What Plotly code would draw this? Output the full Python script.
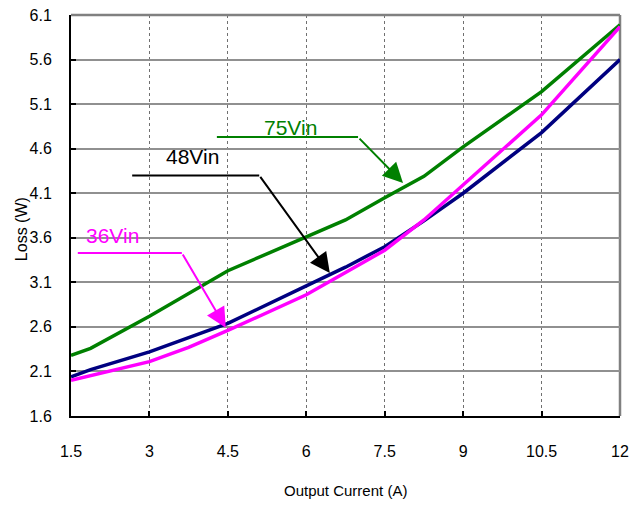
import plotly.graph_objects as go

current = [1.5, 1.875, 3, 3.75, 4.5, 6, 6.75, 7.5, 8.25, 9, 10.5, 12]
loss_75vin = [2.28, 2.36, 2.72, 2.98, 3.23, 3.61, 3.80, 4.05, 4.29, 4.62, 5.24, 5.99]
loss_48vin = [2.04, 2.12, 2.32, 2.475, 2.64, 3.06, 3.27, 3.50, 3.79, 4.10, 4.78, 5.60]
loss_36vin = [2.00, 2.05, 2.21, 2.37, 2.56, 2.96, 3.21, 3.46, 3.80, 4.19, 4.98, 5.97]

x_ticks = [1.5, 3, 4.5, 6, 7.5, 9, 10.5, 12]
y_ticks = [1.6, 2.1, 2.6, 3.1, 3.6, 4.1, 4.6, 5.1, 5.6, 6.1]

GREEN = "#008000"
NAVY = "#000080"
MAGENTA = "#FF00FF"

fig = go.Figure()
fig.add_trace(go.Scatter(x=current, y=loss_75vin, mode="lines", line=dict(color=GREEN, width=3.5), name="75Vin"))
fig.add_trace(go.Scatter(x=current, y=loss_48vin, mode="lines", line=dict(color=NAVY, width=3.5), name="48Vin"))
fig.add_trace(go.Scatter(x=current, y=loss_36vin, mode="lines", line=dict(color=MAGENTA, width=3.5), name="36Vin"))

tick_font = dict(family="Liberation Sans, Arial", size=16, color="black")

# page body has an 8px margin; compensate so the plot lands where the reference has it
fig.update_layout(
    width=635, height=498,
    margin=dict(l=63, r=23, t=7, b=90),
    paper_bgcolor="white", plot_bgcolor="white",
    showlegend=False,
    xaxis=dict(range=[1.5, 12], tickvals=x_ticks, ticktext=[f"{v:g}" for v in x_ticks],
               showgrid=True, gridcolor="#707070", gridwidth=1, griddash="dot",
               showline=True, linecolor="black", linewidth=2,
               ticks="inside", ticklen=5, tickcolor="black", tickwidth=1.5,
               tickfont=tick_font, ticklabelstandoff=20, ticklabeloverflow="allow",
               zeroline=False, automargin=False),
    yaxis=dict(range=[1.6, 6.1], tickvals=y_ticks, ticktext=[f"{v:g}" for v in y_ticks],
               showgrid=True, gridcolor="#909090", gridwidth=1.5,
               showline=True, linecolor="black", linewidth=2,
               ticks="inside", ticklen=5, tickcolor="black", tickwidth=1.5,
               tickfont=tick_font, ticklabelstandoff=14, ticklabeloverflow="allow",
               zeroline=False, automargin=False),
)

# gray top/right frame
fig.add_shape(type="line", xref="paper", yref="paper", x0=0, x1=1, y0=1, y1=1,
              line=dict(color="#808080", width=2.5), layer="above")
fig.add_shape(type="line", xref="paper", yref="paper", x0=1, x1=1, y0=0, y1=1,
              line=dict(color="#808080", width=2.5), layer="below")

# axis titles
fig.add_annotation(text="Output Current (A)", xref="paper", yref="paper", x=0.5, y=-0.185,
                   showarrow=False, yanchor="middle",
                   font=dict(family="Liberation Sans, Arial", size=15, color="black"))
fig.add_annotation(text="Loss (W)", xref="paper", yref="paper", x=-0.09, y=0.465,
                   showarrow=False, textangle=-90, xanchor="center", yanchor="middle",
                   font=dict(family="Liberation Sans, Arial", size=16, color="black"))

label_font = "Liberation Sans, Arial"
callouts = [
    # text, color, text pos, line (x0, x1, y), arrow head
    ("75Vin", GREEN, (5.69, 4.84), (4.29, 6.99, 4.73), (7.85, 4.215)),
    ("48Vin", "black", (3.83, 4.51), (2.67, 5.10, 4.30), (6.45, 3.205)),
    ("36Vin", MAGENTA, (2.30, 3.63), (1.63, 3.62, 3.43), (4.46, 2.59)),
]
for text, col, (tx, ty), (lx0, lx1, ly), (hx, hy) in callouts:
    fig.add_annotation(text=text, x=tx, y=ty, xref="x", yref="y", showarrow=False,
                       font=dict(family=label_font, size=21, color=col))
    fig.add_shape(type="line", xref="x", yref="y", x0=lx0, x1=lx1, y0=ly, y1=ly,
                  line=dict(color=col, width=2), layer="above")
    fig.add_annotation(x=hx, y=hy, ax=lx1, ay=ly, xref="x", yref="y", axref="x", ayref="y",
                       showarrow=True, arrowhead=2, arrowsize=2.0, arrowwidth=2, arrowcolor=col, text="")

fig.write_html("out.html")
